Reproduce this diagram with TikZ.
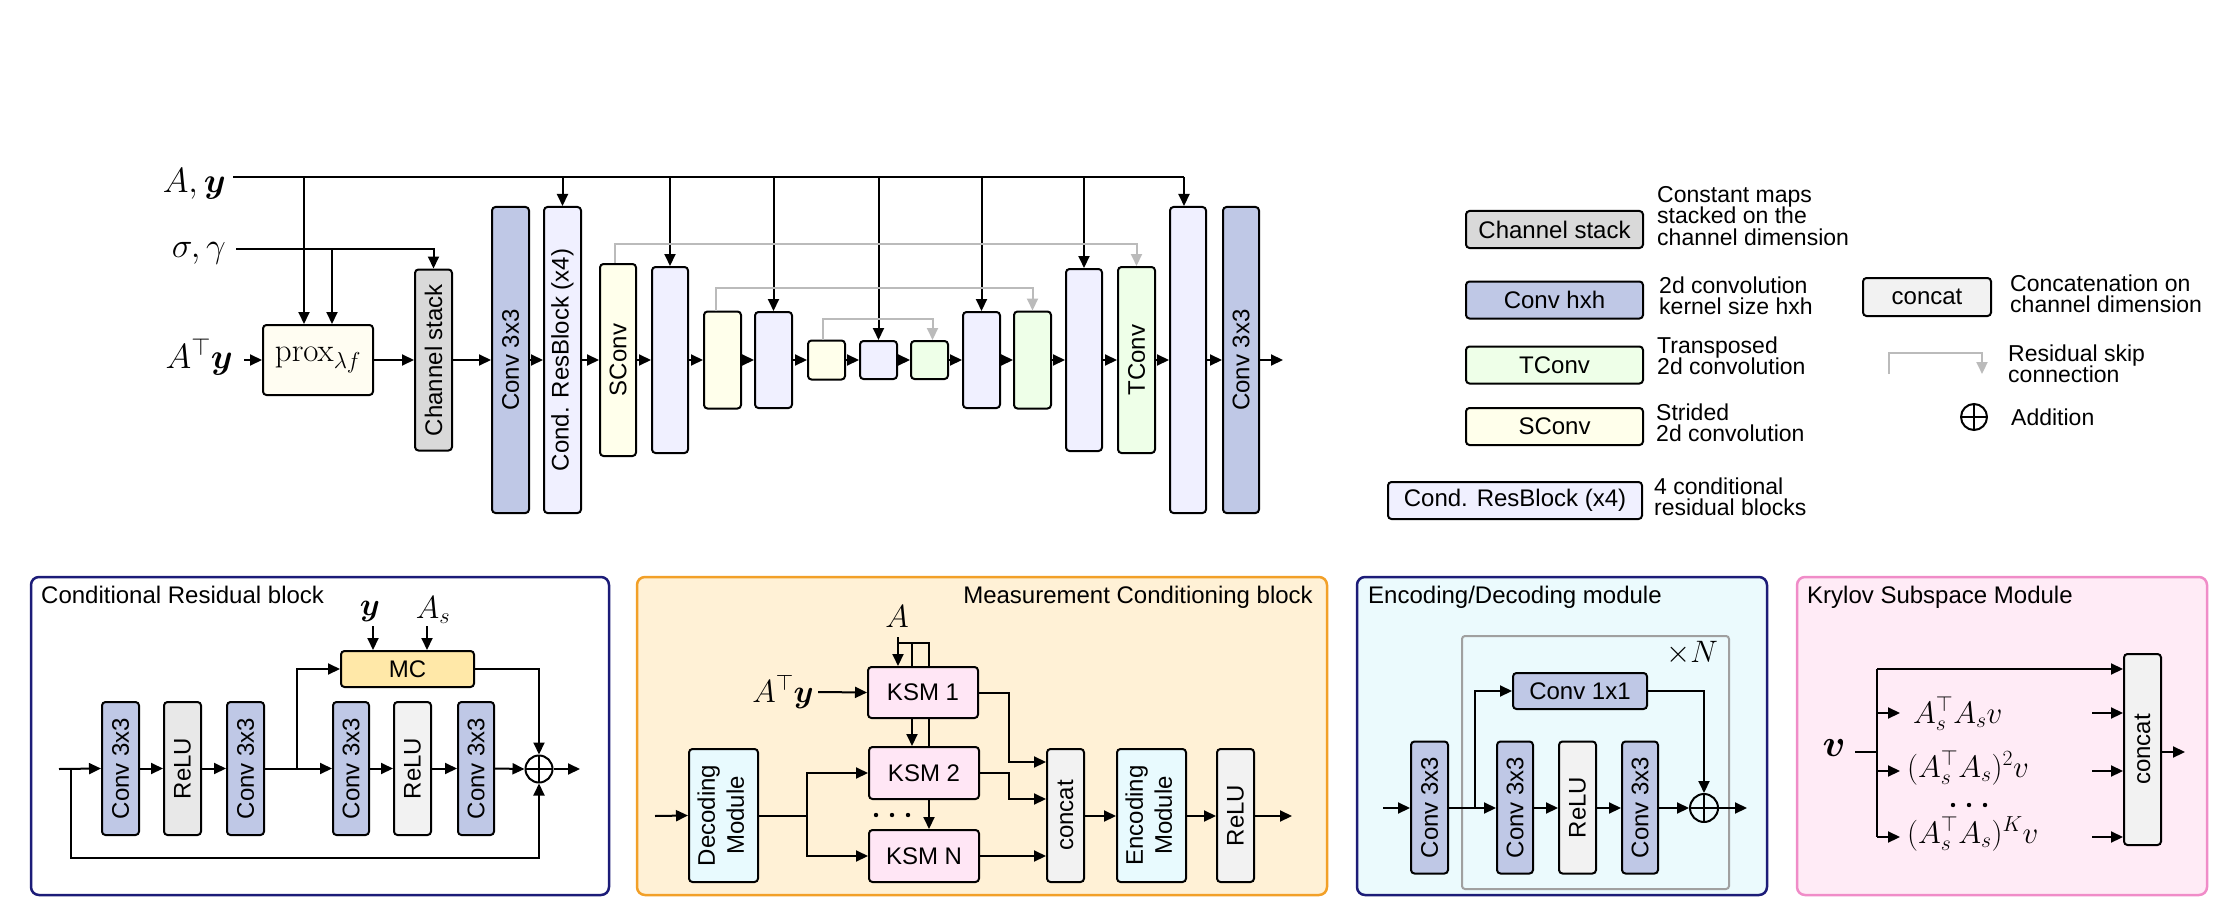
\RequirePackage{fix-cm}
\documentclass[tikz,border=0pt]{standalone}
\usepackage{amsmath,amsbsy}
\usepackage[no-math]{fontspec}
\setmainfont{Liberation Sans}
\usepackage{graphicx}
\usetikzlibrary{arrows.meta,calc}
\definecolor{convc}{RGB}{191,200,230}
\definecolor{rbc}{RGB}{240,240,255}
\definecolor{scc}{RGB}{255,255,235}
\definecolor{tcc}{RGB}{238,255,232}
\definecolor{csc}{RGB}{217,217,217}
\definecolor{proxc}{RGB}{255,253,242}
\definecolor{relua}{RGB}{232,232,232}
\definecolor{relub}{RGB}{242,242,242}
\definecolor{catc}{RGB}{242,242,242}
\definecolor{mcc}{RGB}{255,232,168}
\definecolor{ksmc}{RGB}{255,230,245}
\definecolor{modc}{RGB}{232,250,254}
\definecolor{ptwofill}{RGB}{255,241,214}
\definecolor{pthreefill}{RGB}{235,250,253}
\definecolor{pfourfill}{RGB}{255,235,246}
\definecolor{navyb}{RGB}{28,28,120}
\definecolor{orngb}{RGB}{242,160,40}
\definecolor{pinkb}{RGB}{240,140,200}
\definecolor{skipg}{RGB}{187,187,187}
\definecolor{innerg}{RGB}{160,160,160}
\newcommand{\fsA}{\fontsize{24}{29}\selectfont}
\newcommand{\fsL}{\fontsize{23}{21.5}\selectfont}
\newcommand{\fsM}{\fontsize{35}{40}\selectfont}
\newcommand{\fsP}{\fontsize{33}{38}\selectfont}
\newcommand{\fsS}{\fontsize{32}{36}\selectfont}
\newcommand{\fsK}{\fontsize{31}{36}\selectfont}
\newcommand{\vbk}[7]{\node[blk, fill=#6, minimum width=#4pt, minimum height=#5pt] (#1) at (#2,#3) {\rotatebox{90}{#7}};}
\tikzset{
  blk/.style={draw=black, line width=2pt, rounded corners=3.5pt, inner sep=0pt, font=\fsA},
  arr/.style={line width=2pt, -{Triangle[length=12pt,width=11pt]}},
  ln/.style={line width=2pt},
  skipar/.style={line width=2pt, draw=skipg, -{Triangle[length=12pt,width=11pt,fill=skipg]}},
  panel/.style={line width=2.5pt, rounded corners=8pt, inner sep=0pt, minimum height=318pt},
  oplus/.style={circle, draw, line width=2pt, minimum size=27pt, inner sep=0pt,
    path picture={\draw[line width=2pt] (path picture bounding box.north) -- (path picture bounding box.south)
      (path picture bounding box.west) -- (path picture bounding box.east);}},
  lgtext/.style={anchor=west, align=left, inner sep=0pt, font=\fsL},
  ttl/.style={anchor=base west, inner sep=0pt, font=\fsA},
}
\begin{document}
\begin{tikzpicture}[x=1pt,y=-1pt]
\useasboundingbox (0,0) rectangle (2235,920);

% ================= TOP NETWORK =================
\node[anchor=base east, inner sep=0pt, font=\fsM] (lay) at (226,193) {$A,\boldsymbol{y}$};
\node[anchor=base east, inner sep=0pt, font=\fsM] (lsg) at (226,257) {$\sigma,\gamma$};
\node[anchor=base east, inner sep=0pt, font=\fsM] (laty) at (233,368) {$A^{\top}\boldsymbol{y}$};
\coordinate (aS) at (233,177);
\coordinate (aE) at (1184,177);
\coordinate (sS) at (236,249);
\coordinate (atyS) at (244,360);

\node[blk, fill=proxc, minimum width=110pt, minimum height=70pt, font=\fsP] (prox) at (318,360) {$\mathrm{prox}_{\lambda f}$};
\vbk{cs}{433.5}{360}{37}{181}{csc}{Channel stack}
\vbk{c1}{510.5}{360}{37}{306}{convc}{Conv 3x3}
\vbk{rb}{562.5}{360}{37}{306}{rbc}{Cond. ResBlock (x4)}
\vbk{sc1}{618}{360}{36}{192}{scc}{SConv}
\vbk{b1}{670}{360}{36}{186}{rbc}{}
\vbk{s2}{722.5}{360}{37}{97}{scc}{}
\vbk{b2}{773.5}{360}{37}{96}{rbc}{}
\vbk{s3}{826.5}{360}{37}{39}{scc}{}
\vbk{b3}{878.5}{360}{37}{38}{rbc}{}
\vbk{t3}{929.5}{360}{37}{38}{tcc}{}
\vbk{b4}{981.5}{360}{37}{96}{rbc}{}
\vbk{t2}{1032.5}{360}{37}{97}{tcc}{}
\vbk{b5}{1084}{360}{36}{182}{rbc}{}
\vbk{tc}{1136.5}{360}{37}{186}{tcc}{TConv}
\vbk{b6}{1188}{360}{36}{306}{rbc}{}
\vbk{c2}{1241}{360}{36}{306}{convc}{Conv 3x3}
\coordinate (outT) at (1283,360);

% conditioning lines
\draw[ln] (aS) -- (aE);
\draw[arr] (aE) -- (aE |- b6.north);
\draw[arr] ([xshift=-14pt]prox.north |- aS) -- ([xshift=-14pt]prox.north);
\draw[arr] (rb.north |- aS) -- (rb.north);
\draw[arr] (b1.north |- aS) -- (b1.north);
\draw[arr] (b2.north |- aS) -- (b2.north);
\draw[arr] (b3.north |- aS) -- (b3.north);
\draw[arr] (b4.north |- aS) -- (b4.north);
\draw[arr] (b5.north |- aS) -- (b5.north);
\draw[arr] (sS) -| (cs.north);
\draw[arr] ([xshift=14pt]prox.north |- sS) -- ([xshift=14pt]prox.north);

% main chain
\draw[arr] (atyS) -- (prox.west);
\draw[arr] (prox.east) -- (cs.west);
\draw[arr] (cs.east) -- (c1.west);
\draw[arr] (c1.east) -- (rb.west);
\draw[arr] (rb.east) -- (sc1.west);
\draw[arr] (sc1.east) -- (b1.west);
\draw[arr] (b1.east) -- (s2.west);
\draw[arr] (s2.east) -- (b2.west);
\draw[arr] (b2.east) -- (s3.west);
\draw[arr] (s3.east) -- (b3.west);
\draw[arr] (b3.east) -- (t3.west);
\draw[arr] (t3.east) -- (b4.west);
\draw[arr] (b4.east) -- (t2.west);
\draw[arr] (t2.east) -- (b5.west);
\draw[arr] (b5.east) -- (tc.west);
\draw[arr] (tc.east) -- (b6.west);
\draw[arr] (b6.east) -- (c2.west);
\draw[arr] (c2.east) -- (outT);

% residual skips
\coordinate (k1) at (0,244);
\coordinate (k2) at (0,288);
\coordinate (k3) at (0,319);
\draw[skipar] ([xshift=-3pt]sc1.north) |- (tc.north |- k1) -- (tc.north);
\draw[skipar] ([xshift=-7pt]s2.north) |- (t2.north |- k2) -- (t2.north);
\draw[skipar] ([xshift=-3.5pt]s3.north) |- ([xshift=3pt]t3.north |- k3) -- ([xshift=3pt]t3.north);

% ================= LEGEND =================
\node[blk, fill=csc, minimum width=177pt, minimum height=37pt] (lcs) at (1554.5,229.5) {Channel stack};
\node[lgtext] (lcst) at (1657,216) {Constant maps\\stacked on the\\channel dimension};
\node[blk, fill=convc, minimum width=177pt, minimum height=37pt] (lcv) at (1554.5,300) {Conv hxh};
\node[lgtext] (lcvt) at (1659,296) {2d convolution\\kernel size hxh};
\node[blk, fill=tcc, minimum width=177pt, minimum height=37pt] (ltc) at (1554.5,365) {TConv};
\node[lgtext] (ltct) at (1657,356) {Transposed\\2d convolution};
\node[blk, fill=scc, minimum width=177pt, minimum height=37pt] (lsc) at (1554.5,426.5) {SConv};
\node[lgtext] (lsct) at (1656,423) {Strided\\2d convolution};
\node[blk, fill=rbc, minimum width=254pt, minimum height=37pt] (lrb) at (1515,500.5) {Cond. ResBlock (x4)};
\node[lgtext] (lrbt) at (1654,497) {4 conditional\\residual blocks};
\node[blk, fill=catc, minimum width=128pt, minimum height=38pt] (lcat) at (1927,297) {concat};
\node[lgtext] (lcatt) at (2010,294) {Concatenation on\\channel dimension};
\coordinate (lskA) at (1889,374);
\coordinate (lskB) at (1982,374);
\coordinate (lskT) at (0,353);
\draw[skipar] (lskA) |- (lskB |- lskT) -- (lskB);
\node[lgtext] (lskt) at (2008,364) {Residual skip\\connection};
\node[oplus, minimum size=26pt] (lpl) at (1974,417) {};
\node[lgtext] (lplt) at (2011,417) {Addition};

% ================= PANEL 1: Conditional Residual block =================
\node[panel, draw=navyb, fill=white, minimum width=578pt] (p1) at (320,736) {};
\node[ttl] (p1t) at (41,603) {Conditional Residual block};
\vbk{rcv1}{120.5}{768.5}{37}{133}{convc}{Conv 3x3}
\vbk{rrl1}{182.5}{768.5}{37}{133}{relua}{ReLU}
\vbk{rcv2}{245.5}{768.5}{37}{133}{convc}{Conv 3x3}
\vbk{rcv3}{351}{768.5}{36}{133}{convc}{Conv 3x3}
\vbk{rrl2}{412.5}{768.5}{37}{133}{relub}{ReLU}
\vbk{rcv4}{476}{768.5}{36}{133}{convc}{Conv 3x3}
\node[oplus] (rop) at (539,769) {};
\node[blk, fill=mcc, minimum width=133pt, minimum height=36pt] (mc) at (407.5,669) {MC};
\node[inner sep=0pt, font=\fsS] (ry) at (370,611) {$\boldsymbol{y}$};
\node[inner sep=0pt, font=\fsS] (ras) at (433,610) {$A_s$};
\coordinate (rin) at (59,769);
\coordinate (rsk) at (71,769);
\coordinate (rskb) at (0,858);
\coordinate (rbr) at (297,769);
\coordinate (rout) at (580,769);
\draw[arr] (rin) -- (rcv1.west);
\draw[arr] (rcv1.east) -- (rrl1.west);
\draw[arr] (rrl1.east) -- (rcv2.west);
\draw[arr] (rcv2.east) -- (rcv3.west);
\draw[arr] (rcv3.east) -- (rrl2.west);
\draw[arr] (rrl2.east) -- (rcv4.west);
\draw[arr] (rcv4.east) -- (rop.west);
\draw[arr] (rop.east) -- (rout);
\draw[arr] (rsk) |- (rop |- rskb) -- (rop.south);
\draw[arr] (rbr) |- (mc.west);
\draw[arr] (mc.east) -| (rop.north);
\draw[arr] ([xshift=-34.5pt,yshift=24pt]mc.north) -- ([xshift=-34.5pt]mc.north);
\draw[arr] ([xshift=19.5pt,yshift=24pt]mc.north) -- ([xshift=19.5pt]mc.north);

% ================= PANEL 2: Measurement Conditioning block =================
\node[panel, draw=orngb, fill=ptwofill, minimum width=690pt] (p2) at (982,736) {};
\node[anchor=base east, inner sep=0pt, font=\fsA] (p2t) at (1313,603) {Measurement Conditioning block};
\node[blk, fill=ksmc, minimum width=110pt, minimum height=51pt] (k1n) at (923,692.5) {KSM 1};
\node[blk, fill=ksmc, minimum width=110pt, minimum height=52pt] (k2n) at (924,773) {KSM 2};
\node[blk, fill=ksmc, minimum width=110pt, minimum height=52pt] (kNn) at (924,856) {KSM N};
\vbk{dec}{723.5}{815.5}{69}{133}{modc}{\begin{tabular}{@{}c@{}}Decoding\\Module\end{tabular}}
\vbk{mcat}{1065.5}{815.5}{37}{133}{catc}{concat}
\vbk{enc}{1151.5}{815.5}{69}{133}{modc}{\begin{tabular}{@{}c@{}}Encoding\\Module\end{tabular}}
\vbk{mrl}{1235.5}{815.5}{37}{133}{relub}{ReLU}
\node[inner sep=0pt, font=\fsS] (mA) at (897,617) {$A$};
\node[anchor=east, inner sep=0pt, font=\fsS] (maty) at (814,692) {$A^{\top}\boldsymbol{y}$};
\coordinate (mAs) at (898,637);
\coordinate (mbr) at (0,643);
\coordinate (mx1) at (912,0);
\coordinate (mx2) at (929,0);
\draw[arr] (mAs) -- (mAs |- k1n.north);
\draw[ln] (mAs |- mbr) -- (mx2 |- mbr) -- (mx2 |- k1n.north);
\draw[ln] (mx1 |- mbr) -- (mx1 |- k1n.north);
\draw[arr] (mx1 |- k1n.south) -- (mx1 |- k2n.north);
\draw[ln] (mx2 |- k1n.south) -- (mx2 |- k2n.north);
\draw[arr] (mx2 |- k2n.south) -- (mx2 |- kNn.north);
\draw[arr] ([xshift=4pt]maty.east) -- (k1n.west);
\fill (876,815) circle (2.2pt) (892,815) circle (2.2pt) (908,815) circle (2.2pt);
\coordinate (min) at (655,816);
\coordinate (mbx) at (807,816);
\coordinate (mcx) at (1009,0);
\coordinate (mya) at (0,762);
\coordinate (myb) at (0,799);
\draw[arr] (min) -- (dec.west);
\draw[ln] (dec.east |- mbx) -- (mbx);
\draw[arr] (mbx) |- (k2n.west);
\draw[arr] (mbx) |- (kNn.west);
\draw[arr] (k1n.east) -| (mcx |- mya) -- (mcat.west |- mya);
\draw[arr] (k2n.east) -| (mcx |- myb) -- (mcat.west |- myb);
\draw[arr] (kNn.east) -- (mcat.west |- kNn.east);
\draw[arr] (mcat.east |- mbx) -- (enc.west |- mbx);
\draw[arr] (enc.east |- mbx) -- (mrl.west |- mbx);
\coordinate (mout) at (1292,816);
\draw[arr] (mrl.east |- mbx) -- (mout);

% ================= PANEL 3: Encoding/Decoding module =================
\node[panel, draw=navyb, fill=pthreefill, minimum width=410pt] (p3) at (1562,736) {};
\node[ttl] (p3t) at (1368,603) {Encoding/Decoding module};
\draw[line width=2pt, draw=innerg, rounded corners=3pt] (1462,636) rectangle (1729,889);
\node[anchor=base east, inner sep=0pt, font=\fsK] (xn) at (1718,662) {$\times N$};
\vbk{ecA}{1429.5}{807.5}{37}{132}{convc}{Conv 3x3}
\vbk{ecB}{1515}{807.5}{36}{132}{convc}{Conv 3x3}
\vbk{erl}{1577.5}{807.5}{37}{132}{relub}{ReLU}
\vbk{ecC}{1640}{807.5}{36}{132}{convc}{Conv 3x3}
\node[blk, fill=convc, minimum width=134pt, minimum height=36pt] (e11) at (1580,691) {Conv 1x1};
\node[oplus, minimum size=28pt] (eop) at (1704,808) {};
\coordinate (ein) at (1383,808);
\coordinate (ebr) at (1475,808);
\coordinate (eout) at (1747,808);
\draw[arr] (ein) -- (ecA.west |- ein);
\draw[arr] (ecA.east |- ein) -- (ecB.west |- ein);
\draw[arr] (ebr) |- (e11.west);
\draw[arr] (ecB.east |- ein) -- (erl.west |- ein);
\draw[arr] (erl.east |- ein) -- (ecC.west |- ein);
\draw[arr] (ecC.east |- ein) -- (eop.west);
\draw[arr] (eop.east) -- (eout);
\draw[arr] (e11.east) -| (eop.north);

% ================= PANEL 4: Krylov Subspace Module =================
\node[panel, draw=pinkb, fill=pfourfill, minimum width=410pt] (p4) at (2002,736) {};
\node[ttl] (p4t) at (1807,603) {Krylov Subspace Module};
\vbk{kc}{2142.5}{749.5}{37}{191}{catc}{concat}
\node[inner sep=0pt, font=\fontsize{38}{42}\selectfont] (kv) at (1834,748) {$\boldsymbol{v}$};
\coordinate (kvs) at (1855,752);
\coordinate (kvx) at (1877,752);
\coordinate (kt) at (1877,669);
\coordinate (kb) at (1877,837);
\draw[ln] (kvs) -- (kvx);
\draw[ln] (kt) -- (kb);
\draw[arr] (kt) -- (kc.west |- kt);
\node[anchor=base west, inner sep=0pt, font=\fsK] (kf1) at (1913,723) {$A_s^{\top}A_s v$};
\node[anchor=base west, inner sep=0pt, font=\fsK] (kf2) at (1907,777) {$(A_s^{\top}A_s)^2 v$};
\node[anchor=base west, inner sep=0pt, font=\fsK] (kf3) at (1907,843) {$(A_s^{\top}A_s)^K v$};
\coordinate (kr1) at (1877,713);
\coordinate (kr2) at (1877,771);
\coordinate (kr3) at (1877,837);
\coordinate (ka1) at (1900,713);
\coordinate (ka2) at (1900,771);
\coordinate (ka3) at (1900,837);
\coordinate (kq1) at (2092,713);
\coordinate (kq2) at (2092,771);
\coordinate (kq3) at (2092,837);
\draw[arr] (kr1) -- (ka1);
\draw[arr] (kr2) -- (ka2);
\draw[arr] (kr3) -- (ka3);
\draw[arr] (kq1) -- (kc.west |- kq1);
\draw[arr] (kq2) -- (kc.west |- kq2);
\draw[arr] (kq3) -- (kc.west |- kq3);
\fill (1953,805) circle (2.2pt) (1969,805) circle (2.2pt) (1985,805) circle (2.2pt);
\coordinate (kout) at (2185,752);
\draw[arr] (kc.east |- kvx) -- (kout);
\end{tikzpicture}
\end{document}
